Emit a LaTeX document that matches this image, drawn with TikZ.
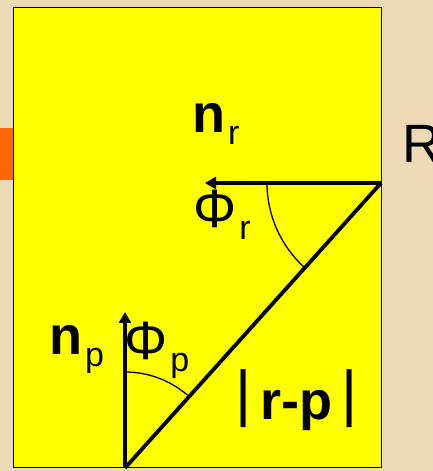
\documentclass[tikz,border=0pt]{standalone}
\usepackage{fontspec}
\setmainfont{Liberation Sans}
\usetikzlibrary{arrows.meta}
\definecolor{parch}{HTML}{EDD9B5}
\definecolor{panel}{HTML}{FFFF00}
\definecolor{slab}{HTML}{FF6600}
\newcommand{\lsub}[1]{\kern3pt\raisebox{-12pt}{\fontsize{34}{34}\selectfont #1}}
\newcommand{\lbar}{\raisebox{5pt}{\fontsize{62}{62}\selectfont|}}

\begin{document}
\begin{tikzpicture}[x=1pt, y=1pt,
          lbl/.style={font=\fontsize{54}{60}\selectfont, inner sep=0pt,
                      anchor=base west},
          vec/.style={-{Triangle[length=11pt, width=12pt]}, line width=3.8pt},
          ang/.style={line width=1.3pt}]
        \useasboundingbox[fill=parch] (0,0) rectangle (433,471);
        % receiver patch and the yellow panel
        \fill[slab] (0,291) rectangle (13,343);
        \draw[fill=panel, line width=1pt] (13,3) rectangle (381,463.5);
        \coordinate (r) at (381,288);
        \coordinate (p) at (125,3);
        \coordinate (nrtip) at (205,288);
        \coordinate (nptip) at (125,159);
        % normals and the ray between them
        \draw[vec] (r) -- (nrtip);
        \draw[vec] (p) -- (nptip);
        \draw[line width=3.8pt] (r) -- (p);
        \draw[ang] (r) ++(180:114) arc (180:228:114);
        \draw[ang] (p) ++(90:96) arc (90:48:96);
        % labels
        \node[lbl] (nr) at (192,338) {\textbf{n}\lsub{r}};
        \node[lbl] (phir) at (193,243) {Φ\lsub{r}};
        \node[lbl] (np) at (49,116) {\textbf{n}\lsub{p}};
        \node[lbl] (phip) at (124,111) {Φ\lsub{p}};
        \node[lbl] (dist) at (235,51)
          {\lbar\hspace{9pt}\textbf{r-p}\hspace{9pt}\lbar};
        \node[lbl] (rlab) at (402,308) {R};
      \end{tikzpicture}
\end{document}
